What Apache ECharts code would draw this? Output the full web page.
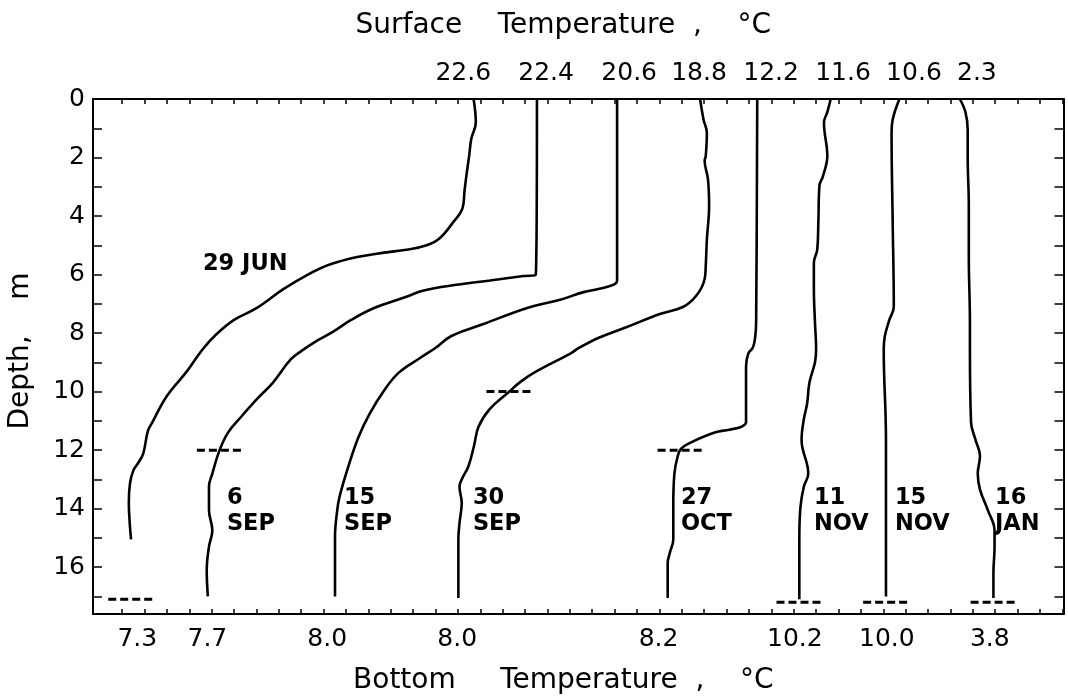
<!DOCTYPE html>
<html>
<head>
<meta charset="utf-8">
<title>Temperature profiles</title>
<script src="https://cdn.jsdelivr.net/npm/echarts@6/dist/echarts.min.js"></script>
<style>
  html, body { margin: 0; padding: 0; background: #ffffff; }
  #chart { width: 1068px; height: 698px; }
</style>
</head>
<body>
<div id="chart"></div>
<script>
// ---- Data: water temperature (°C) against depth (m), one cast per date ----
const castDates = ['29 JUN', '6 SEP', '15 SEP', '30 SEP', '27 OCT', '11 NOV', '15 NOV', '16 JAN'];

const jun29Depth = [0, 0.8, 1.35, 1.95, 2.5, 3.1, 3.75, 4.2, 4.75, 5.0, 5.15, 5.25, 5.4, 5.65, 6.0, 6.5, 7.15, 7.55, 8.05, 8.55, 9.3, 10.15, 11.05, 11.35, 12.1, 12.4, 12.7, 13.15, 13.8, 14.6, 15.05];
const jun29Temp  = [22.6, 22.7, 22.5, 22.4, 22.3, 22.2, 22.1, 21.7, 21.1, 20.5, 19.6, 18.6, 17.4, 16.2, 15.2, 14.1, 12.9, 11.9, 11.1, 10.5, 9.8, 8.9, 8.25, 8.05, 7.85, 7.65, 7.4, 7.25, 7.2, 7.25, 7.3];

const sep06Depth = [0, 6.0, 6.05, 6.2, 6.35, 6.55, 6.75, 7.15, 7.55, 7.95, 8.25, 8.6, 8.9, 9.7, 10.25, 10.85, 11.4, 12.05, 12.8, 13.25, 14.05, 14.75, 15.3, 16.1, 17.0];
const sep06Temp  = [22.4, 22.35, 21.8, 20.3, 18.8, 17.3, 16.6, 15.1, 14.1, 13.3, 12.6, 11.9, 11.4, 10.6, 9.9, 9.2, 8.6, 8.2, 7.9, 7.75, 7.75, 7.9, 7.75, 7.65, 7.7];

const sep15Depth = [0, 6.2, 6.4, 6.6, 6.85, 7.15, 7.7, 8.1, 8.5, 8.85, 9.35, 9.95, 10.75, 11.55, 12.55, 13.6, 14.05, 14.95, 17.0];
const sep15Temp  = [20.6, 20.6, 20.25, 19.1, 18.1, 16.55, 14.6, 13.2, 12.5, 11.8, 10.85, 10.2, 9.55, 9.05, 8.6, 8.2, 8.1, 8.0, 8.0];

const sep30Depth = [0, 0.7, 1.15, 1.95, 2.1, 2.75, 3.65, 4.8, 5.7, 6.15, 6.7, 7.1, 7.35, 7.8, 8.15, 8.5, 8.7, 9.3, 9.65, 10.05, 10.6, 11.2, 11.85, 12.55, 13.0, 13.25, 13.8, 14.5, 15.05, 17.05];
const sep30Temp  = [18.8, 18.95, 19.1, 19.05, 19.0, 19.15, 19.2, 19.1, 19.05, 19.0, 18.65, 18.05, 17.0, 15.5, 14.3, 13.4, 13.0, 11.5, 10.8, 10.2, 9.4, 8.9, 8.7, 8.45, 8.15, 8.05, 8.15, 8.05, 8.0, 8.0];

const oct27Depth = [0, 7.65, 8.2, 8.5, 8.7, 9.15, 11.05, 11.2, 11.3, 11.4, 11.75, 11.95, 12.2, 12.8, 13.9, 15.05, 15.5, 15.85, 17.05];
const oct27Temp  = [12.2, 12.15, 12.1, 12.0, 11.8, 11.7, 11.7, 11.5, 10.95, 10.3, 9.2, 8.8, 8.65, 8.5, 8.45, 8.45, 8.3, 8.2, 8.2];

const nov11Depth = [0, 0.45, 0.8, 1.95, 2.65, 2.95, 4.2, 5.15, 5.6, 6.5, 7.65, 8.55, 9.0, 9.7, 10.4, 10.95, 11.65, 12.8, 13.25, 13.95, 15.05, 17.1];
const nov11Temp  = [11.6, 11.45, 11.3, 11.45, 11.25, 11.1, 11.05, 11.0, 10.85, 10.85, 10.9, 10.95, 10.9, 10.65, 10.55, 10.4, 10.3, 10.6, 10.4, 10.25, 10.2, 10.2];

const nov15Depth = [0, 0.7, 1.15, 4.2, 7.1, 7.55, 8.1, 8.55, 11.65, 15.05, 17.0];
const nov15Temp  = [10.6, 10.3, 10.25, 10.3, 10.35, 10.15, 9.95, 9.9, 10.0, 10.0, 10.0];

const jan16Depth = [0, 0.45, 1.05, 1.95, 3.65, 5.35, 7.65, 8.55, 11.05, 11.65, 12.2, 12.8, 13.35, 14.05, 14.75, 15.3, 16.2, 17.05];
const jan16Temp  = [2.3, 2.55, 2.65, 2.65, 2.7, 2.7, 2.75, 2.75, 2.8, 3.0, 3.2, 3.1, 3.2, 3.55, 3.85, 3.85, 3.8, 3.8];

// Depth of the dashed marker on each cast (null where none was drawn)
const markerDepth = [17.1, 12.0, null, 10.0, 12.0, 17.2, 17.2, 17.2];

// Depth axis tick labels (m)
const depthTickLabels = [0, 2, 4, 6, 8, 10, 12, 14, 16];

const castDepths = [jun29Depth, sep06Depth, sep15Depth, sep30Depth, oct27Depth, nov11Depth, nov15Depth, jan16Depth];
const castTemps  = [jun29Temp, sep06Temp, sep15Temp, sep30Temp, oct27Temp, nov11Temp, nov15Temp, jan16Temp];

// ---- Layout: each profile is displaced sideways on a 1 °C grid ----
const FONT = 'DejaVu Sans';
const profileShift = [-6.9, -3.87, 1.51, 7.02, 16.17, 20.05, 24.12, 35.12];
const surfaceLabelNudge = [-0.46, 0.41, 0.54, -0.05, 0.62, 0.55, 0.65, 0.76];
const bottomLabelNudge = [0.28, -0.02, -0.35, -0.05, -0.41, -0.2, 0.04, -0.16];
const dateLabelAt = [[3.61, 5.64], [4.68, 14.07], [9.91, 14.07], [15.67, 14.07], [24.96, 14.07], [30.9, 14.07], [34.52, 14.07], [38.99, 14.07]];
const markerHalfWidth = 1.02;
const X_MIN = -1.3, X_MAX = 42.05;
const gridTicks = Array.from({ length: 43 }, (_, i) => i);

function tempAt(depths, temps, d) {
  if (d <= depths[0]) return temps[0];
  for (let i = 1; i < depths.length; i++) {
    if (d <= depths[i]) {
      const f = (d - depths[i - 1]) / (depths[i] - depths[i - 1]);
      return temps[i - 1] + f * (temps[i] - temps[i - 1]);
    }
  }
  return temps[temps.length - 1];
}

const surfacePos = castTemps.map((t, i) => +(t[0] + profileShift[i] + surfaceLabelNudge[i]).toFixed(3));
const surfaceText = castTemps.map(t => t[0].toFixed(1));
const bottomPos = castTemps.map((t, i) => +(t[t.length - 1] + profileShift[i] + bottomLabelNudge[i]).toFixed(3));
const bottomText = castTemps.map(t => t[t.length - 1].toFixed(1));

function tempAxis(position, labelValues, labelTexts, name, nameGap) {
  const lookup = new Map(labelValues.map((v, i) => [v.toFixed(3), labelTexts[i]]));
  return {
    type: 'value',
    position: position,
    min: X_MIN,
    max: X_MAX,
    axisLine: { show: true, onZero: false, lineStyle: { color: '#000', width: 2 } },
    axisTick: { show: true, inside: true, length: 5, customValues: gridTicks, lineStyle: { color: '#000', width: 1.5 } },
    axisLabel: {
      show: true, customValues: labelValues, margin: 13,
      formatter: v => lookup.get(Number(v).toFixed(3)) || '',
      color: '#000', fontFamily: FONT, fontSize: 25
    },
    splitLine: { show: false },
    name: name,
    nameLocation: 'middle',
    nameGap: nameGap,
    nameTextStyle: { color: '#000', fontFamily: FONT, fontSize: 28, padding: [0, 30, 0, 0] }
  };
}

function depthAxis(position, showLabels) {
  return {
    type: 'value',
    position: position,
    inverse: true,
    min: 0,
    max: 17.6,
    interval: 1,
    axisLine: { show: true, onZero: false, lineStyle: { color: '#000', width: 2 } },
    axisTick: { show: true, inside: true, length: 9, lineStyle: { color: '#000', width: 1.5 } },
    axisLabel: {
      show: showLabels, margin: 8,
      formatter: v => depthTickLabels.includes(v) ? String(v) : '',
      color: '#000', fontFamily: FONT, fontSize: 25
    },
    splitLine: { show: false },
    name: showLabels ? 'Depth,    m' : '',
    nameLocation: 'middle',
    nameGap: 58,
    nameTextStyle: { color: '#000', fontFamily: FONT, fontSize: 28, padding: [0, 0, 0, 11] }
  };
}

const series = [];

castTemps.forEach((temps, i) => {
  const depths = castDepths[i];
  series.push({
    type: 'line',
    name: castDates[i],
    xAxisIndex: 0, yAxisIndex: 0,
    data: depths.map((d, k) => [temps[k] + profileShift[i], d]),
    showSymbol: false,
    smooth: 0.4,
    lineStyle: { color: '#000', width: 2.6 },
    silent: true,
    z: 3
  });
});

markerDepth.forEach((d, i) => {
  if (d === null) return;
  const c = tempAt(castDepths[i], castTemps[i], d) + profileShift[i];
  series.push({
    type: 'line',
    xAxisIndex: 0, yAxisIndex: 0,
    data: [[c - markerHalfWidth, d], [c + markerHalfWidth, d]],
    showSymbol: false,
    lineStyle: { color: '#000', width: 3, type: [8, 4] },
    silent: true,
    z: 4
  });
});

series.push({
  type: 'scatter',
  xAxisIndex: 0, yAxisIndex: 0,
  symbolSize: 0,
  silent: true,
  itemStyle: { opacity: 1 },
  data: dateLabelAt.map((p, i) => ({ value: p, name: castDates[i] })),
  label: {
    show: true,
    position: 'right',
    distance: 0,
    formatter: p => p.dataIndex === 0 ? p.name : p.name.replace(' ', '\n'),
    color: '#000', opacity: 1, fontFamily: FONT, fontWeight: 'bold', fontSize: 22.5, lineHeight: 26
  },
  z: 5
});

const chart = echarts.init(document.getElementById('chart'), null, { renderer: 'canvas' });
chart.setOption({
  animation: false,
  backgroundColor: '#ffffff',
  grid: { left: 93, top: 99, right: 4.5, bottom: 84, containLabel: false, outerBoundsMode: 'none' },
  xAxis: [
    tempAxis('bottom', bottomPos, bottomText, 'Bottom     Temperature  ,    °C', 53),
    tempAxis('top', surfacePos, surfaceText, 'Surface    Temperature  ,    °C', 59)
  ],
  yAxis: [depthAxis('left', true), depthAxis('right', false)],
  series: series
});
</script>
</body>
</html>
